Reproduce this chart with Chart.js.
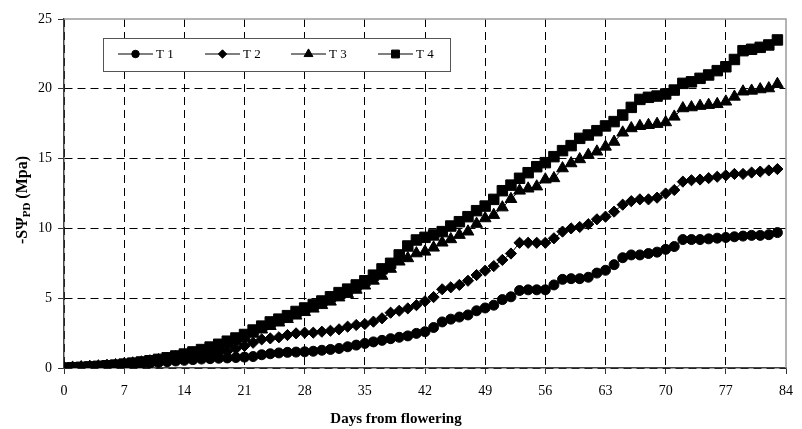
<!DOCTYPE html>
<html lang="en">
<head>
<meta charset="UTF-8">
<title>Predawn water potential</title>
<script src="https://cdn.jsdelivr.net/npm/chart.js"></script>
<style>
  html, body { margin: 0; padding: 0; background: #fff; }
  #wrap { width: 802px; height: 429px; position: relative; }
</style>
</head>
<body>
<div id="wrap"><canvas id="psiChart"></canvas></div>
<script>
// days after flowering (one reading per day)
const days = [0,1,2,3,4,5,6,7,8,9,10,11,12,13,14,15,16,17,18,19,20,
  21,22,23,24,25,26,27,28,29,30,31,32,33,34,35,36,37,38,39,40,41,
  42,43,44,45,46,47,48,49,50,51,52,53,54,55,56,57,58,59,60,61,62,
  63,64,65,66,67,68,69,70,71,72,73,74,75,76,77,78,79,80,81,82,83];

const t1 = [0,0.02,0.04,0.07,0.1,0.13,0.17,0.21,0.25,0.3,0.35,0.4,0.45,0.5,0.55,0.6,0.64,0.67,0.7,0.72,0.75,0.78,
  0.82,0.95,1.02,1.08,1.12,1.14,1.16,1.2,1.27,1.33,1.4,1.52,1.64,1.76,1.87,1.98,2.1,2.2,2.3,2.48,2.6,2.9,3.3,
  3.5,3.65,3.8,4.1,4.3,4.5,4.9,5.1,5.55,5.6,5.6,5.6,5.95,6.35,6.4,6.4,6.5,6.8,7.0,7.4,7.9,8.1,8.1,8.2,8.3,
  8.5,8.7,9.2,9.2,9.2,9.25,9.3,9.35,9.4,9.45,9.5,9.5,9.55,9.7];

const t2 = [0,0.02,0.04,0.07,0.1,0.13,0.17,0.22,0.27,0.33,0.39,0.46,0.53,0.6,0.68,0.77,0.86,0.96,1.07,1.2,1.38,1.58,
  1.81,2.05,2.12,2.2,2.36,2.48,2.53,2.53,2.6,2.67,2.77,2.96,3.08,3.15,3.32,3.56,3.96,4.1,4.27,4.5,4.78,5.08,5.64,
  5.78,5.95,6.25,6.66,6.97,7.3,7.74,8.2,8.97,8.97,8.97,8.97,9.29,9.77,10.0,10.1,10.3,10.65,10.84,11.2,11.7,11.95,
  12.08,12.08,12.2,12.5,12.75,13.35,13.45,13.5,13.6,13.7,13.8,13.9,13.9,14.0,14.07,14.15,14.25];

const t3 = [0,0.02,0.05,0.08,0.11,0.15,0.2,0.26,0.32,0.39,0.47,0.56,0.66,0.77,0.9,1.03,1.17,1.33,1.5,1.7,1.92,2.15,
  2.45,2.75,3.0,3.25,3.5,3.75,4.0,4.25,4.5,4.75,5.05,5.3,5.6,5.9,6.25,6.6,7.1,7.62,7.86,8.21,8.33,8.62,8.98,
  9.22,9.53,9.77,10.32,10.72,10.96,11.5,12.1,12.7,12.85,13.0,13.5,13.59,14.3,14.66,14.95,15.26,15.5,15.85,16.2,
  16.86,17.17,17.33,17.4,17.48,17.6,18.0,18.6,18.67,18.77,18.84,18.9,19.08,19.43,19.8,19.86,19.96,20.03,20.34];

const t4 = [0,0.02,0.05,0.08,0.12,0.16,0.21,0.28,0.35,0.43,0.52,0.62,0.73,0.86,1.0,1.15,1.32,1.5,1.7,1.92,2.15,2.4,
  2.72,3.0,3.3,3.5,3.75,4.05,4.3,4.55,4.8,5.1,5.4,5.65,5.95,6.25,6.65,7.1,7.5,8.1,8.74,9.17,9.36,9.53,9.77,
  10.17,10.48,10.84,11.27,11.6,12.08,12.7,13.1,13.59,13.99,14.42,14.71,15.14,15.57,15.93,16.45,16.69,17.0,17.34,
  17.65,18.12,18.67,19.24,19.39,19.48,19.63,19.91,20.39,20.5,20.75,20.99,21.3,21.58,22.1,22.73,22.83,22.97,23.14,23.5];

const seriesNames = ['T 1', 'T 2', 'T 3', 'T 4'];
const xTicks = [0, 7, 14, 21, 28, 35, 42, 49, 56, 63, 70, 77, 84];
const yTicks = [0, 5, 10, 15, 20, 25];

const serif = "'Liberation Serif', 'Times New Roman', serif";
const markers = [
  { style: 'circle', r: 5 },
  { style: 'rectRot', r: 5.6 },
  { style: 'triangle', r: 6.8 },
  { style: 'rect', r: 7.4 }
];

function toPoints(vals) {
  return days.map((d, i) => ({ x: d, y: vals[i] }));
}

const datasets = [t1, t2, t3, t4].map((vals, i) => ({
  label: seriesNames[i],
  data: toPoints(vals),
  showLine: true,
  borderColor: '#000',
  borderWidth: 1,
  backgroundColor: '#000',
  pointStyle: markers[i].style,
  pointRadius: markers[i].r,
  pointBackgroundColor: '#000',
  pointBorderColor: '#000',
  pointBorderWidth: 1,
  order: 4 - i
}));

// legend box, axis titles and the grey top/right frame
const extras = {
  id: 'extras',
  beforeDatasetsDraw(chart) {
    const { ctx, chartArea: a } = chart;
    ctx.save();
    ctx.strokeStyle = '#9a9a9a';
    ctx.lineWidth = 1.5;
    ctx.beginPath();
    ctx.moveTo(a.left, a.top);
    ctx.lineTo(a.right, a.top);
    ctx.lineTo(a.right, a.bottom);
    ctx.stroke();
    ctx.restore();
  },
  afterDraw(chart) {
    const ctx = chart.ctx;
    ctx.save();

    // legend
    ctx.fillStyle = '#fff';
    ctx.fillRect(103.5, 38.5, 347, 33);
    ctx.strokeStyle = '#555';
    ctx.lineWidth = 1;
    ctx.strokeRect(103.5, 38.5, 347, 33);
    const startX = [118, 205, 291, 378];
    chart.data.datasets.forEach((ds, i) => {
      const x0 = startX[i], y0 = 54;
      ctx.strokeStyle = '#000';
      ctx.lineWidth = 1;
      ctx.beginPath();
      ctx.moveTo(x0, y0);
      ctx.lineTo(x0 + 35, y0);
      ctx.stroke();
      ctx.fillStyle = '#000';
      Chart.helpers.drawPoint(ctx, {
        pointStyle: ds.pointStyle, radius: ds.pointRadius * 0.75,
        rotation: 0, borderWidth: 1
      }, x0 + 17.5, y0);
      ctx.font = '13px ' + serif;
      ctx.textBaseline = 'middle';
      ctx.textAlign = 'left';
      ctx.fillText(ds.label, x0 + 38, y0 + 1);
    });

    // x title
    ctx.fillStyle = '#000';
    ctx.font = 'bold 15px ' + serif;
    ctx.textAlign = 'center';
    ctx.textBaseline = 'middle';
    ctx.fillText('Days from flowering', 396, 419);

    // y title with subscript
    const big = 'bold 16px ' + serif, small = 'bold 11px ' + serif;
    const parts = [['-SΨ', big, 0], ['PD', small, 4], [' (Mpa)', big, 0]];
    let total = 0;
    parts.forEach(p => { ctx.font = p[1]; total += ctx.measureText(p[0]).width; });
    ctx.translate(23, 200);
    ctx.rotate(-Math.PI / 2);
    ctx.textAlign = 'left';
    let cx = -total / 2;
    parts.forEach(p => {
      ctx.font = p[1];
      ctx.fillText(p[0], cx, p[2]);
      cx += ctx.measureText(p[0]).width;
    });
    ctx.restore();
  }
};

function gridColor(max) {
  return c => (c.tick && c.tick.value === max) ? 'rgba(0,0,0,0)' : '#000';
}

new Chart(document.getElementById('psiChart'), {
  type: 'scatter',
  data: { datasets },
  options: {
    responsive: true,
    maintainAspectRatio: false,
    animation: false,
    events: [],
    layout: { padding: { top: 19, right: 10, left: 0, bottom: 0 } },
    plugins: { legend: { display: false }, tooltip: { enabled: false } },
    scales: {
      x: {
        type: 'linear',
        min: 0, max: 84,
        afterBuildTicks: s => { s.ticks = xTicks.map(v => ({ value: v })); },
        afterFit: s => { s.height = 61; },
        ticks: { color: '#000', padding: 9, font: { family: serif, size: 14 } },
        grid: {
          color: gridColor(84), lineWidth: 1,
          tickLength: 6, tickColor: '#333', tickBorderDash: [], tickWidth: 1
        },
        border: { display: true, color: '#444', width: 1.5, dash: [8, 5] }
      },
      y: {
        min: 0, max: 25,
        afterBuildTicks: s => { s.ticks = yTicks.map(v => ({ value: v })); },
        afterFit: s => { s.width = 64; },
        ticks: { color: '#000', padding: 6, font: { family: serif, size: 14 } },
        grid: {
          color: gridColor(25), lineWidth: 1,
          tickLength: 6, tickColor: '#333', tickBorderDash: [], tickWidth: 1
        },
        border: { display: true, color: '#444', width: 1.5, dash: [8, 5] }
      }
    }
  },
  plugins: [extras]
});
</script>
</body>
</html>
